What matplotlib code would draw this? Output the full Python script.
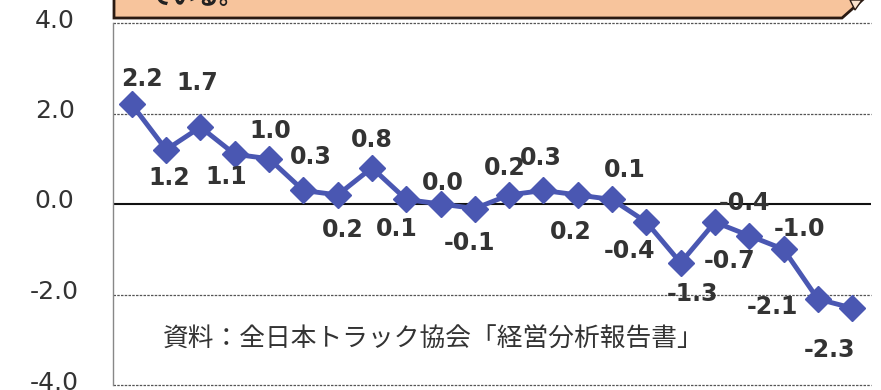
import matplotlib
matplotlib.use("Agg")
import matplotlib.pyplot as plt
import matplotlib.transforms as mtransforms
from matplotlib.patches import Polygon
import numpy as np

plt.rcParams['font.family'] = ['DejaVu Sans', 'Noto Sans CJK JP']

values = [2.2, 1.2, 1.7, 1.1, 1.0, 0.3, 0.2, 0.8, 0.1, 0.0, -0.1,
          0.2, 0.3, 0.2, 0.1, -0.4, -1.3, -0.4, -0.7, -1.0, -2.1, -2.3]
labels = ['2.2', '1.2', '1.7', '1.1', '1.0', '0.3', '0.2', '0.8', '0.1', '0.0', '-0.1',
          '0.2', '0.3', '0.2', '0.1', '-0.4', '-1.3', '-0.4', '-0.7', '-1.0', '-2.1', '-2.3']
yticks = [-4.0, -2.0, 0.0, 2.0, 4.0]
source = '資料：全日本トラック協会「経営分析報告書」'

# label offsets in pixels (dx, dy up)
offsets = [(10, 25), (3, -28), (-3, 44), (-9, -23), (1, 28), (7, 33), (5, -35),
           (0, 28), (-10, -30), (2, 21), (-5, -34), (-4, 27), (-3, 32), (-7, -37),
           (13, 29), (-17, -29), (12, -31), (30, 19), (-20, -25), (16, 20),
           (-45, -8), (-23, -42)]

W, H = 881, 390
fig = plt.figure(figsize=(W / 100, H / 100), dpi=100)
ax = fig.add_axes([113 / W, (H - 385) / H, (871 - 113) / W, (385 - 23) / H])

x = np.arange(len(values))
ax.plot(x, values, color='#4A57B2', lw=3.5, marker='D', ms=13,
        markeredgecolor='#4A57B2', zorder=5, clip_on=False)

for xi, v, lab, (dx, dy) in zip(x, values, labels, offsets):
    ax.annotate(lab, (xi, v), xytext=(dx * 0.72, dy * 0.72), textcoords='offset points',
                ha='center', va='center', fontsize=17, fontweight='bold',
                color='#333333', zorder=6)

ax.set_xlim(-0.55, 21.55)
ax.set_ylim(-4, 4)
ax.set_yticks(yticks)
ax.set_yticklabels([f'{t:.1f}' for t in yticks])
ax.set_xticks([])
ax.tick_params(axis='y', length=0, pad=42, labelsize=18, labelcolor='#333333')
shift = mtransforms.ScaledTranslation(0, 5 / 100, fig.dpi_scale_trans)
for t in ax.get_yticklabels():
    t.set_horizontalalignment('center')
    t.set_transform(t.get_transform() + shift)

for t in [-4, -2, 2, 4]:
    ax.axhline(t, color='#555555', lw=0.9, ls=(0, (2, 1)), zorder=1, clip_on=False)
ax.axhline(0, color='#111111', lw=1.5, zorder=2)

for s in ['top', 'right', 'bottom']:
    ax.spines[s].set_visible(False)
ax.spines['left'].set_color('#888888')
ax.spines['left'].set_linewidth(1)

ax.text(0.066, 0.125, source, transform=ax.transAxes, fontsize=18.5,
        family=['Noto Sans CJK JP', 'DejaVu Sans'], color='#333333', va='center')

# callout box at the top
ov = fig.add_axes([0, 0, 1, 1], zorder=10)
ov.set_xlim(0, W)
ov.set_ylim(H, 0)
ov.axis('off')
ov.add_patch(Polygon([(114, -5), (114, 18), (842, 18), (868, -5)], closed=True,
                     facecolor='#F7C49C', edgecolor='#2a1a12', lw=2))
ov.add_patch(Polygon([(850, 0), (862, 0), (855, 10)], closed=True,
                     facecolor='#FBE2CC', edgecolor='#2a1a12', lw=1))
ov.text(148, 4, 'ている。', fontsize=17, fontweight='bold',
        family=['Noto Sans CJK JP', 'DejaVu Sans'], color='#222222', va='baseline')

fig.savefig('out.png', dpi=100)
